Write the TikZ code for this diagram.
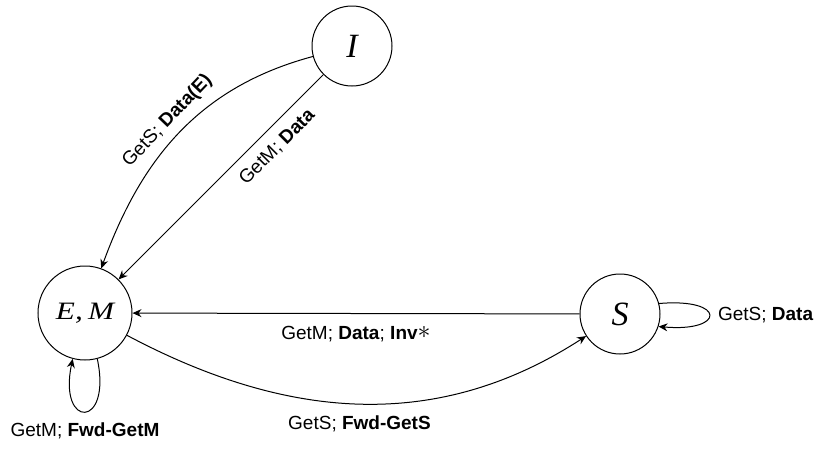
\documentclass[tikz,border=0pt]{standalone}
\usepackage{fontspec}
\usepackage{graphicx}
\setmainfont{Liberation Sans}
\newfontfamily\tms{Liberation Serif}
\usetikzlibrary{arrows.meta}
\begin{document}
\begin{tikzpicture}[x=1pt,y=1pt,
  state/.style={draw, circle, line width=1pt, inner sep=0pt},
  lbl/.style={font=\fontsize{19}{22}\selectfont},
  edge/.style={draw, line width=1pt, -{Stealth[length=9pt,width=8pt,inset=3pt]}},
]
\useasboundingbox (0,0) rectangle (817,-450);
\node[state, minimum size=94pt] (EM) at (85,-313) {\fontsize{25}{30}\selectfont\scalebox{1.25}[1]{\tms\itshape E,\,M}};
\node[state, minimum size=80pt] (S) at (620,-314) {\fontsize{34}{40}\selectfont\tms\itshape S};
\node[state, minimum size=80pt] (I) at (352,-46) {\fontsize{34}{40}\selectfont\tms\itshape I};

\draw[edge] (I) -- node[lbl, sloped, below=7pt, pos=0.29] (l1) {GetM; \textbf{Data}} (EM);
\draw[edge] (I) to[out=195, in=70] node[lbl, sloped, above=4pt, pos=0.5] (l2) {GetS; \textbf{Data(E)}} (EM);
\draw[edge] (S) -- node[lbl, below=9pt] (l3) {GetM; \textbf{Data}; \textbf{Inv}\raisebox{1pt}{\scalebox{1.5}{$\ast$}}} (EM);
\draw[edge] (EM) to[out=-28, in=-147] node[lbl, below=8pt] (l4) {GetS; \textbf{Fwd-GetS}} (S);
\draw[edge] (EM.-75) to[out=-78, in=-102, looseness=7.5] node[lbl, below=7pt] (l5) {GetM; \textbf{Fwd-GetM}} (EM.-105);
\draw[edge] (S.15) to[out=5, in=-5, looseness=7.5] node[lbl, right=5pt] (l6) {GetS; \textbf{Data}} (S.-18);
\end{tikzpicture}
\end{document}
